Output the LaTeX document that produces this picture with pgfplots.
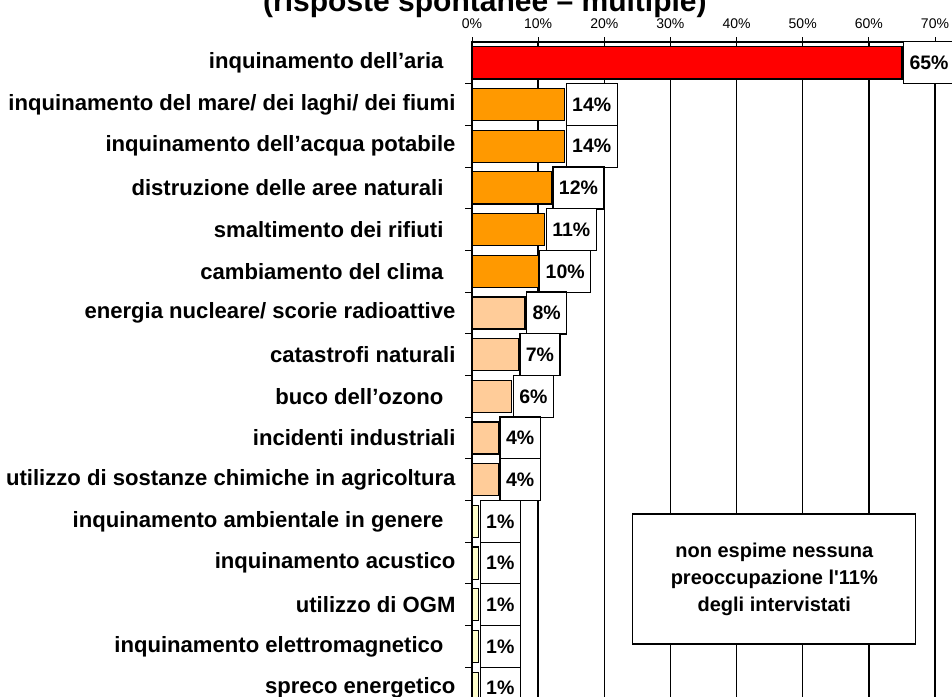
\documentclass[border=0pt]{standalone}
\usepackage{fontspec}
\setmainfont{Liberation Sans}
\usepackage{pgfplots}
\pgfplotsset{compat=1.18}
\definecolor{cRed}{RGB}{255,0,0}
\definecolor{cOrange}{RGB}{255,153,0}
\definecolor{cPeach}{RGB}{255,204,153}
\definecolor{cYellow}{RGB}{255,255,204}
\newcommand{\ts}{\hspace*{12pt}}
\begin{document}
\begin{tikzpicture}
\useasboundingbox (0,0) rectangle (952pt,-696pt);
\clip (0,0) rectangle (952pt,-696pt);
\node[anchor=base west, font=\fontsize{30}{34}\selectfont\bfseries, inner sep=0pt] at (263pt,-11pt) {(risposte spontanee – multiple)};
\begin{axis}[
  at={(472pt,-709pt)}, anchor=south west,
  scale only axis, width=463pt, height=667pt,
  xmin=0, xmax=70, ymin=-0.5, ymax=15.5, y dir=reverse,
  xtick={0,10,...,70},
  xticklabel={\pgfmathprintnumber{\tick}\%},
  xtick pos=right, xticklabel pos=right,
  xtick align=center,
  xmajorgrids, major grid style={black, line width=1.3pt},
  ytick={0,...,15},
  yticklabels={inquinamento dell’aria\ts, inquinamento del mare/ dei laghi/ dei fiumi, inquinamento dell’acqua potabile, distruzione delle aree naturali\ts, smaltimento dei rifiuti\ts, cambiamento del clima\ts, energia nucleare/ scorie radioattive, catastrofi naturali, buco dell’ozono\ts, incidenti industriali, utilizzo di sostanze chimiche in agricoltura, inquinamento ambientale in genere\ts, inquinamento acustico, utilizzo di OGM, inquinamento elettromagnetico\ts, spreco energetico},
  ytick pos=left, ytick align=outside,
  major y tick style={draw=none},
  minor ytick={0.5,1.5,...,14.5},
  minor y tick style={black, line width=1pt},
  minor tick length=7pt,
  major tick length=10pt,
  major x tick style={black, line width=1pt},
  yticklabel style={font=\fontsize{22.1}{24}\selectfont\bfseries, xshift=-3pt},
  xticklabel style={font=\fontsize{14}{16}\selectfont, yshift=5pt},
  /pgf/number format/assume math mode=true,
  axis line style={black, line width=1.6pt},
  xbar, bar width=0.77, bar shift=0pt,
  clip=false,
  point meta=x,
  nodes near coords={\pgfmathprintnumber{\pgfplotspointmeta}\%},
  every node near coord/.append style={anchor=west, draw=black, fill=white, line width=1.2pt, text=black, font=\fontsize{19.5}{22}\selectfont\bfseries, minimum height=42pt, inner xsep=6pt, xshift=1pt},
]
\addplot[fill=cRed, draw=black, line width=1.2pt] coordinates {(65,0)};
\addplot[fill=cOrange, draw=black, line width=1.2pt] coordinates {(14,1) (14,2) (12,3) (11,4) (10,5)};
\addplot[fill=cPeach, draw=black, line width=1.2pt] coordinates {(8,6) (7,7) (6,8) (4,9) (4,10)};
\addplot[fill=cYellow, draw=black, line width=1.2pt] coordinates {(1,11) (1,12) (1,13) (1,14) (1,15)};
\node[draw=black, fill=white, line width=1.3pt, minimum width=283pt, minimum height=130pt, align=center, font=\fontsize{20}{27}\selectfont\bfseries] at (axis cs:45.7,12.38) {non espime nessuna\\preoccupazione l\textquotesingle 11\%\\degli intervistati};
\end{axis}
\end{tikzpicture}
\end{document}
